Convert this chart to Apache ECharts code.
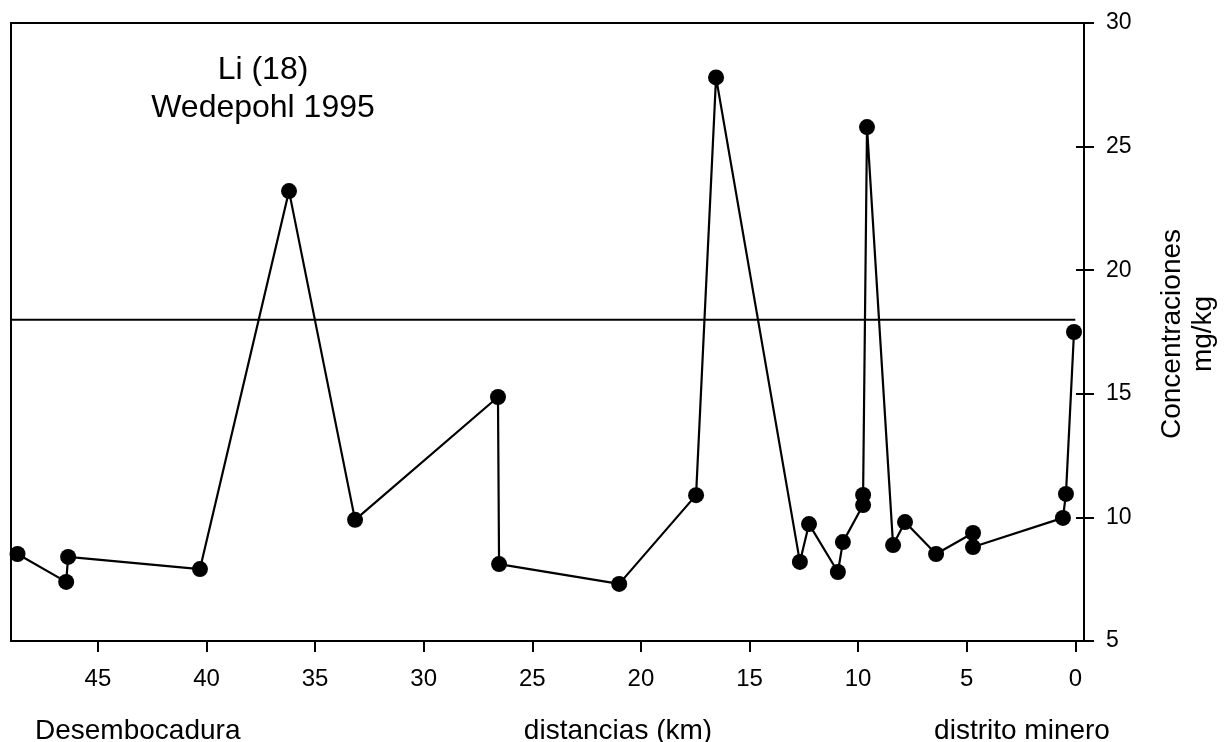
<!DOCTYPE html>
<html>
<head>
<meta charset="utf-8">
<script src="https://cdn.jsdelivr.net/npm/echarts@6/dist/echarts.min.js"></script>
<style>
  html, body { margin: 0; padding: 0; background: #fff; }
  #chart { width: 1224px; height: 742px; }
</style>
</head>
<body>
<div id="chart"></div>
<script>
// distancia al distrito minero (km) y concentración de Li (mg/kg), en orden de la línea
var distKm = [48.7, 46.46, 46.37, 40.3, 36.2, 33.16, 26.58, 26.53, 21.0, 17.46, 16.54,
              12.68, 12.26, 10.93, 10.7, 9.77, 9.77, 9.59, 8.39, 7.84, 6.41, 4.71, 4.71,
              0.57, 0.43, 0.06];
var liConc = [8.52, 7.39, 8.4, 7.91, 23.2, 9.9, 14.87, 8.11, 7.31, 10.9, 27.8,
              8.2, 9.73, 7.79, 9.0, 10.5, 10.91, 25.79, 8.88, 9.81, 8.52, 9.37, 8.8,
              9.98, 10.95, 17.5];
// valor de referencia Wedepohl 1995
var refValue = 18;
var refRange = [49, 0];
var xTicks = [0, 5, 10, 15, 20, 25, 30, 35, 40, 45];

var font = '"Liberation Sans", Arial, sans-serif';

var chart = echarts.init(document.getElementById('chart'));

var lineData = distKm.map(function (d, i) { return [d, liConc[i]]; });
var refData = refRange.map(function (d) { return [d, refValue]; });

chart.setOption({
  animation: false,
  backgroundColor: '#fff',
  grid: {
    left: 11,
    right: 140,
    top: 23,
    bottom: 101,
    show: true,
    borderColor: '#000',
    borderWidth: 2
  },
  xAxis: {
    type: 'value',
    inverse: true,
    min: -0.4,
    max: 49,
    axisLine: { show: true, onZero: false, lineStyle: { color: '#000', width: 2 } },
    axisTick: { show: true, length: 11, lineStyle: { color: '#000', width: 2 }, customValues: xTicks },
    axisLabel: { color: '#000', fontSize: 24, fontFamily: font, margin: 26, customValues: xTicks },
    splitLine: { show: false }
  },
  yAxis: [{
    type: 'value',
    position: 'right',
    min: 5,
    max: 30,
    interval: 5,
    axisLine: { show: true, onZero: false, lineStyle: { color: '#000', width: 2 } },
    axisTick: { show: true, length: 10, lineStyle: { color: '#000', width: 2 } },
    axisLabel: { color: '#000', fontSize: 23, fontFamily: font, margin: 22 },
    splitLine: { show: false }
  }, {
    // ticks hacia dentro (el eje original tiene marcas cruzadas)
    type: 'value',
    position: 'right',
    min: 5,
    max: 30,
    interval: 5,
    axisLine: { show: false, onZero: false },
    axisTick: { show: true, inside: true, length: 8, lineStyle: { color: '#000', width: 2 } },
    axisLabel: { show: false },
    splitLine: { show: false }
  }],
  series: [{
    type: 'line',
    data: refData,
    symbol: 'none',
    lineStyle: { color: '#000', width: 2 },
    silent: true
  }, {
    type: 'line',
    data: lineData,
    symbol: 'circle',
    symbolSize: 16,
    itemStyle: { color: '#000' },
    lineStyle: { color: '#000', width: 2.2 }
  }],
  graphic: [{
    type: 'text',
    x: 263,
    y: 89,
    style: {
      text: 'Li (18)\nWedepohl 1995',
      fill: '#000',
      font: '32px ' + font,
      align: 'center',
      verticalAlign: 'middle',
      lineHeight: 38
    }
  }, {
    type: 'text',
    x: 1188,
    y: 334,
    rotation: Math.PI / 2,
    style: {
      text: 'Concentraciones\nmg/kg',
      fill: '#000',
      font: '28px ' + font,
      align: 'center',
      verticalAlign: 'middle',
      lineHeight: 31
    }
  }, {
    type: 'text',
    x: 35,
    y: 731,
    style: { text: 'Desembocadura', fill: '#000', font: '28px ' + font, align: 'left', verticalAlign: 'middle' }
  }, {
    type: 'text',
    x: 618,
    y: 731,
    style: { text: 'distancias (km)', fill: '#000', font: '28px ' + font, align: 'center', verticalAlign: 'middle' }
  }, {
    type: 'text',
    x: 1022,
    y: 731,
    style: { text: 'distrito minero', fill: '#000', font: '28px ' + font, align: 'center', verticalAlign: 'middle' }
  }]
});
</script>
</body>
</html>
